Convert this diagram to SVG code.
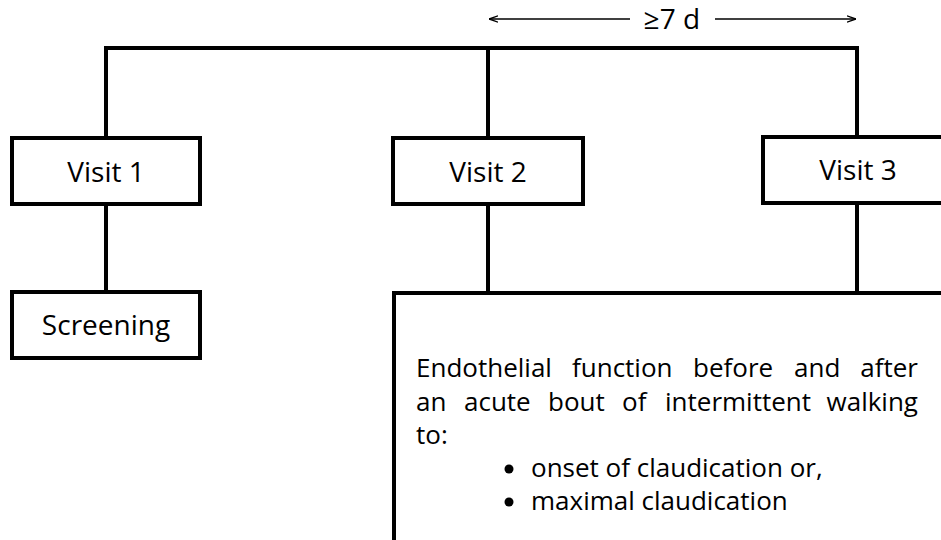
<svg xmlns="http://www.w3.org/2000/svg" width="941" height="540" viewBox="0 0 941 540">
<defs>
<style>
.box{fill:#fff;stroke:#000;stroke-width:4}
.ln{fill:none;stroke:#000;stroke-width:4}
.arr{fill:none;stroke:#000;stroke-width:1.6}
.t{font-family:"Open Sans","Liberation Sans",sans-serif;font-size:28px;fill:#000}
.b{font-family:"Open Sans","Liberation Sans",sans-serif;font-size:26px;fill:#000}
.c{text-anchor:middle}
</style>
<marker id="ah" viewBox="0 0 10 10" refX="10" refY="5" markerWidth="9" markerHeight="9" orient="auto-start-reverse" markerUnits="userSpaceOnUse">
<path d="M0,1.5 L10,5 L0,8.5" fill="none" stroke="#000" stroke-width="1.5"/>
</marker>
</defs>
<rect width="941" height="540" fill="#fff"/>
<g id="connectors">
<path class="ln" d="M106,48 H857 M106,46 V138 M488,46 V138 M857,46 V137"/>
<path class="ln" d="M106,204 V292 M488,204 V293 M857,203 V293"/>
<line class="arr" x1="630" y1="19" x2="489" y2="19" marker-end="url(#ah)"/>
<line class="arr" x1="715" y1="19" x2="856" y2="19" marker-end="url(#ah)"/>
<text class="t c" x="672" y="29">≥7 d</text>
</g>
<g id="visit1">
<rect class="box" x="12" y="138" width="188" height="66"/>
<text class="t c" x="106" y="182">Visit 1</text>
</g>
<g id="visit2">
<rect class="box" x="393" y="138" width="190" height="66"/>
<text class="t c" x="488" y="182">Visit 2</text>
</g>
<g id="visit3">
<rect class="box" x="763" y="137" width="190" height="66"/>
<text class="t c" x="858" y="180">Visit 3</text>
</g>
<g id="screening">
<rect class="box" x="12" y="292" width="188" height="66"/>
<text class="t c" x="106" y="335">Screening</text>
</g>
<g id="endothelial">
<rect class="box" x="394" y="293" width="560" height="260"/>
<text class="b" y="377"><tspan x="416">Endothelial</tspan><tspan x="572">function</tspan><tspan x="693">before</tspan><tspan x="794">and</tspan><tspan x="918" text-anchor="end">after</tspan></text>
<text class="b" y="411"><tspan x="416">an</tspan><tspan x="464">acute</tspan><tspan x="548">bout</tspan><tspan x="622">of</tspan><tspan x="665">intermittent</tspan><tspan x="918" text-anchor="end">walking</tspan></text>
<text class="b" x="416" y="444">to:</text>
<circle cx="509" cy="469" r="4.5"/>
<text class="b" x="531" y="477">onset of claudication or,</text>
<circle cx="509" cy="502" r="4.5"/>
<text class="b" x="531" y="510">maximal claudication</text>
</g>
</svg>
